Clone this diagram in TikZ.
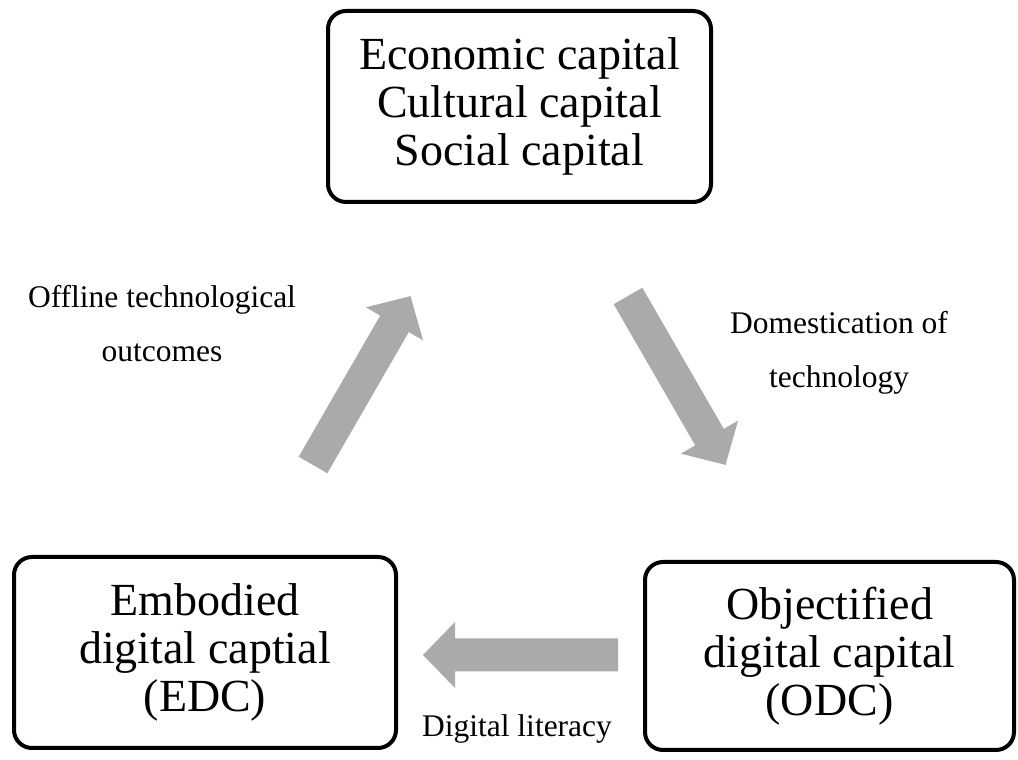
\documentclass[tikz,border=0pt]{standalone}
\usepackage{fontspec}
\setmainfont{Liberation Serif}
\definecolor{flowgray}{RGB}{170,170,170}
\begin{document}
\begin{tikzpicture}[x=1pt,y=1pt,
  capbox/.style={draw=black, line width=4pt, rounded corners=18pt,
    fill=white, align=center, inner sep=0pt, outer sep=0pt,
    font=\fontsize{46}{48}\selectfont},
  flowlabel/.style={align=center, inner sep=0pt,
    font=\fontsize{31.5}{54}\selectfont},
  blockarrow/.pic={
    \fill[flowgray] (0,-16.5) -- (163,-16.5) -- (163,-33) -- (195,0)
      -- (163,33) -- (163,16.5) -- (0,16.5) -- cycle;
  }]
  % page frame
  \fill[white] (0,0) rectangle (1018,760);
  \useasboundingbox (0,0) rectangle (1018,760);

  % the three forms of capital
  \node[capbox, minimum width=383pt, minimum height=191pt] (capitals) at (519.5,653.5)
    {Economic capital\\Cultural capital\\Social capital};
  \node[capbox, minimum width=382pt, minimum height=191pt] (edc) at (205,107.5)
    {Embodied\\digital captial\\(EDC)};
  \node[capbox, minimum width=369pt, minimum height=188pt] (odc) at (829.5,104)
    {Objectified\\digital capital\\(ODC)};

  % tails of the cycle arrows
  \coordinate (outTail) at (313,295);
  \coordinate (domTail) at (628,464);
  \coordinate (litTail) at (618,105);

  \pic[rotate=60] at (outTail) {blockarrow};
  \pic[rotate=-60] at (domTail) {blockarrow};
  \pic[rotate=180] at (litTail) {blockarrow};

  % arrow captions
  \node[flowlabel] (outLabel) at (162,436) {Offline technological\\outcomes};
  \node[flowlabel] (domLabel) at (839,407.3) {Domestication of\\technology};
  \node[flowlabel, anchor=base] (litLabel) at (517,23) {Digital literacy};
\end{tikzpicture}
\end{document}
